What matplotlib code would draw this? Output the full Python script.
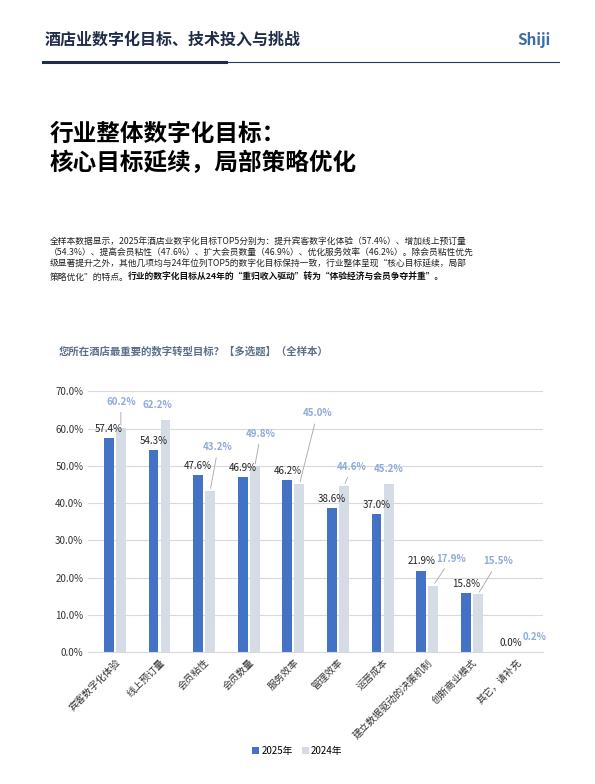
import matplotlib.pyplot as plt
from matplotlib.text import Annotation
import numpy as np

plt.rcParams['font.family'] = ['Noto Sans CJK SC', 'DejaVu Sans']

categories = ['宾客数字化体验', '线上预订量', '会员粘性', '会员数量', '服务效率',
              '管理效率', '运营成本', '建立数据驱动的决策机制', '创新商业模式', '其它，请补充']
v2025 = [57.4, 54.3, 47.6, 46.9, 46.2, 38.6, 37.0, 21.9, 15.8, 0.0]
v2024 = [60.2, 62.2, 43.2, 49.8, 45.0, 44.6, 45.2, 17.9, 15.5, 0.2]
# label offsets for the 2024 values (pixels: dx, dy)
off2024 = [(0, 21), (-8, 10), (8, 39), (6, 28), (18, 66), (8, 14), (0, 10), (18, 22), (20, 28), (12, 10)]

fig = plt.figure(figsize=(5.95, 7.84), dpi=100)
fig.patch.set_facecolor('white')

# header
fig.text(0.075, 0.943, '酒店业数字化目标、技术投入与挑战', fontsize=11.5, weight='bold', color='#1f2d4a')
fig.text(0.925, 0.943, 'Shiji', fontsize=11, weight='bold', color='#3b6ea8', ha='right')
fig.add_artist(plt.Line2D([0.073, 0.94], [0.921, 0.921], color='#2a3a5a', lw=0.8))
fig.add_artist(plt.Line2D([0.073, 0.38], [0.921, 0.921], color='#1f2d4a', lw=2.2))

fig.text(0.083, 0.845, '行业整体数字化目标：\n核心目标延续，局部策略优化', fontsize=17, weight='bold',
         color='black', va='top', linespacing=1.3)

fig.text(0.083, 0.698,
         '全样本数据显示，2025年酒店业数字化目标TOP5分别为：提升宾客数字化体验（57.4%）、增加线上预订量\n'
         '（54.3%）、提高会员粘性（47.6%）、扩大会员数量（46.9%）、优化服务效率（46.2%）。除会员粘性优先\n'
         '级显著提升之外，其他几项均与24年位列TOP5的数字化目标保持一致，行业整体呈现“核心目标延续，局部',
         fontsize=6.3, va='top', color='#222222', linespacing=1.35)
last = fig.text(0.083, 0.698 - 3 * 0.0152, '策略优化”的特点。', fontsize=6.3, va='top', color='#222222')
fig.add_artist(Annotation('行业的数字化目标从24年的“重归收入驱动”转为“体验经济与会员争夺并重”。',
                          xy=(1, 0), xycoords=last, va='bottom', ha='left',
                          fontsize=6.3, weight='bold', color='#111111'))

fig.text(0.098, 0.548, '您所在酒店最重要的数字转型目标？【多选题】（全样本）', fontsize=7.5,
         weight='bold', color='#5a6f8a')

ax = fig.add_axes([0.148, 0.168, 0.765, 0.333])
x = np.arange(len(categories))
w = 0.22
ax.bar(x - 0.135, v2025, w, color='#4472c4', label='2025年')
ax.bar(x + 0.135, v2024, w, color='#d6dce5', label='2024年')
ax.set_ylim(0, 70)
ax.set_xlim(-0.6, len(categories) - 0.4)
ax.set_yticks(np.arange(0, 71, 10))
ax.set_yticklabels([f'{t:.1f}%' for t in np.arange(0, 71, 10)], fontsize=7, color='#333333')
ax.yaxis.grid(True, color='#d9d9d9', lw=0.8)
ax.set_axisbelow(True)
for s in ['top', 'right', 'left']:
    ax.spines[s].set_visible(False)
ax.spines['bottom'].set_color('#d9d9d9')
ax.tick_params(axis='both', length=0)
ax.set_xticks(x)
ax.set_xticklabels(categories, rotation=45, ha='right', rotation_mode='anchor', fontsize=7, color='#333333')

for i, v in enumerate(v2025):
    ax.annotate(f'{v:.1f}%', (x[i] - 0.135, v), xytext=(0, 3), textcoords='offset points',
                ha='center', va='bottom', fontsize=7, color='#222222')
for i, v in enumerate(v2024):
    dx, dy = off2024[i]
    ax.annotate(f'{v:.1f}%', (x[i] + 0.135, v), xytext=(dx * 0.72, dy * 0.72), textcoords='offset points',
                ha='center', va='bottom', fontsize=7, color='#8faadc', weight='bold',
                arrowprops=dict(arrowstyle='-', color='#a6a6a6', lw=0.6) if dy > 12 else None)

fig.legend(loc='lower center', bbox_to_anchor=(0.5, 0.025), ncol=2, frameon=False, fontsize=7,
           handlelength=0.7, handleheight=0.7, columnspacing=1.0, handletextpad=0.2)

fig.savefig('out.png', dpi=100)
